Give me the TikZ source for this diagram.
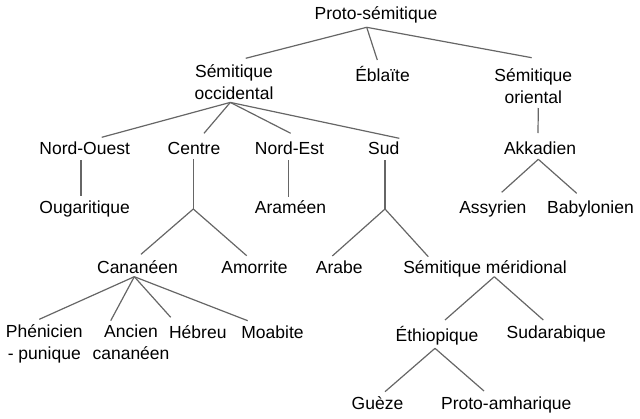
\documentclass[tikz,border=0pt]{standalone}
\usepackage{fontspec}
\setmainfont{Liberation Sans}
\usepackage{tikz}

\begin{document}
\begin{tikzpicture} [x=1pt, y=-1pt,
  lang/.style = {inner sep=0pt, anchor=base, align=center, font=\fontsize{17.5}{21.5}\selectfont},
  branch/.style = {draw=black!60, line width=1.2pt}]
\useasboundingbox (0,0) rectangle (640,418);
\node[lang] (proto) at (376,19) {Proto-sémitique};
\node[lang] (occ) at (234,99) {Sémitique\\occidental};
\node[lang] (ebl) at (382.5,81) {Éblaïte};
\node[lang] (ori) at (533.3,103) {Sémitique\\oriental};
\node[lang] (no) at (84.7,154) {Nord-Ouest};
\node[lang] (cen) at (194,154) {Centre};
\node[lang] (ne) at (289.5,154) {Nord-Est};
\node[lang] (sud) at (383.7,154) {Sud};
\node[lang] (akk) at (540,154) {Akkadien};
\node[lang] (oug) at (84.7,213) {Ougaritique};
\node[lang] (ara) at (290.5,213) {Araméen};
\node[lang] (ass) at (492.8,213) {Assyrien};
\node[lang] (bab) at (590.5,213) {Babylonien};
\node[lang] (can) at (137.5,273) {Cananéen};
\node[lang] (amo) at (254.5,273) {Amorrite};
\node[lang] (arabe) at (339.3,273) {Arabe};
\node[lang] (mer) at (485,273) {Sémitique méridional};
\node[lang] (phe) at (44.3,359.3) {Phénicien\\- punique};
\node[lang] (anc) at (131,359.3) {Ancien\\cananéen};
\node[lang] (heb) at (197.8,338.3) {Hébreu};
\node[lang] (moa) at (272.5,338.3) {Moabite};
\node[lang] (eth) at (437,341.7) {Éthiopique};
\node[lang] (sudar) at (556.3,338.3) {Sudarabique};
\node[lang] (gue) at (377.5,409) {Guèze};
\node[lang] (pam) at (506.3,409) {Proto-amharique};

\coordinate (j-proto) at ([shift={(-9.3,8.3)}]proto.base);
\coordinate (j-occ) at ([shift={(-3.7,3.4)}]occ.base);
\coordinate (j-ori) at ([shift={(5,5)}]ori.base);
\coordinate (j-cen) at ([shift={(-0.7,55)}]cen.base);
\coordinate (j-sud) at ([shift={(1.3,55)}]sud.base);
\coordinate (j-akk) at ([shift={(-1.7,5.3)}]akk.base);
\coordinate (j-can) at ([shift={(-3.2,3.7)}]can.base);
\coordinate (j-mer) at ([shift={(9.3,3.7)}]mer.base);
\coordinate (j-eth) at ([shift={(-2,6.6)}]eth.base);

\draw[branch] (j-proto) -- ([shift={(11.7,-40.7)}]occ.base);
\draw[branch] (j-proto) -- ([shift={(-5.2,-21)}]ebl.base);
\draw[branch] (j-proto) -- ([shift={(-1.6,-45.3)}]ori.base);
\draw[branch] (j-occ) -- ([shift={(17,-16.7)}]no.base);
\draw[branch] (j-occ) -- ([shift={(10,-20.7)}]cen.base);
\draw[branch] (j-occ) -- ([shift={(1.2,-20.7)}]ne.base);
\draw[branch] (j-occ) -- ([shift={(15.6,-15.7)}]sud.base);
\draw[branch] (j-ori) -- ([shift={(-2,-21)}]akk.base);
\draw[branch] ([shift={(-3.7,6)}]no.base) -- ([shift={(-3.7,-17)}]oug.base);
\draw[branch] ([shift={(-1.2,6)}]ne.base) -- ([shift={(-2.2,-16.3)}]ara.base);
\draw[branch] ([shift={(-0.7,5.3)}]cen.base) -- (j-cen);
\draw[branch] (j-cen) -- ([shift={(3.5,-18.7)}]can.base);
\draw[branch] (j-cen) -- ([shift={(-7.8,-17.3)}]amo.base);
\draw[branch] ([shift={(1.3,6)}]sud.base) -- (j-sud);
\draw[branch] (j-sud) -- ([shift={(-7,-17)}]arabe.base);
\draw[branch] (j-sud) -- ([shift={(-56.7,-16.3)}]mer.base);
\draw[branch] (j-akk) -- ([shift={(8.9,-20.7)}]ass.base);
\draw[branch] (j-akk) -- ([shift={(-13.8,-19.7)}]bab.base);
\draw[branch] (j-can) -- ([shift={(-5,-40)}]phe.base);
\draw[branch] (j-can) -- ([shift={(-20.3,-38.6)}]anc.base);
\draw[branch] (j-can) -- ([shift={(-27.1,-21)}]heb.base);
\draw[branch] (j-can) -- ([shift={(-24.8,-17.6)}]moa.base);
\draw[branch] (j-mer) -- ([shift={(8,-21.7)}]eth.base);
\draw[branch] (j-mer) -- ([shift={(-13,-18.3)}]sudar.base);
\draw[branch] (j-eth) -- ([shift={(7.5,-17.3)}]gue.base);
\draw[branch] (j-eth) -- ([shift={(-22.3,-18)}]pam.base);
\end{tikzpicture}
\end{document}
